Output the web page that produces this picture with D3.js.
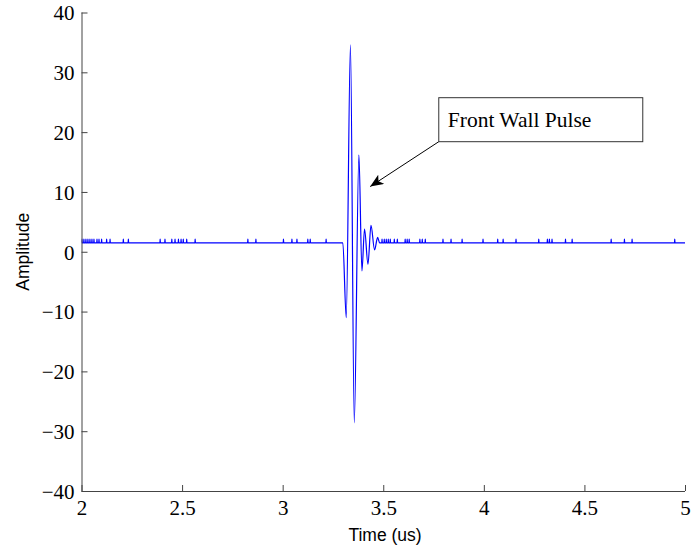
<!DOCTYPE html>
<html><head><meta charset="utf-8">
<script src="https://cdn.jsdelivr.net/npm/d3@7"></script>
<style>body{margin:0;background:#fff}</style>
</head><body>
<script>
// ---- data ----
const xTicks = [2, 2.5, 3, 3.5, 4, 4.5, 5];
const yTicks = [-40, -30, -20, -10, 0, 10, 20, 30, 40];
const baseline = 1.5;
const spikeHeight = 2.1;
const spikeTimesLeft = [2.002, 2.012, 2.022, 2.032, 2.042, 2.052, 2.062, 2.077, 2.087, 2.100, 2.125, 2.142, 2.208, 2.233, 2.391, 2.415, 2.449, 2.465, 2.482, 2.495, 2.506, 2.523, 2.565, 2.827, 2.867, 3.004, 3.046, 3.071, 3.125, 3.137, 3.216];
const pulseTime = [3.299, 3.316, 3.337, 3.356, 3.379, 3.394, 3.407, 3.424, 3.439, 3.457, 3.472, 3.482];
const pulseAmp  = [1.5, -11.0, 34.6, -28.6, 16.2, -3.2, 3.8, -2.1, 4.4, 0.3, 2.4, 1.5];
const spikeTimesRight = [3.494, 3.505, 3.515, 3.525, 3.535, 3.555, 3.570, 3.609, 3.619, 3.629, 3.682, 3.694, 3.709, 3.797, 3.837, 3.892, 3.996, 4.069, 4.096, 4.160, 4.273, 4.316, 4.326, 4.339, 4.406, 4.439, 4.633, 4.699, 4.737, 4.949];
const annotationText = "Front Wall Pulse";
const arrowTip = [3.435, 10.9];
const arrowTail = [3.776, 18.4];

// ---- layout ----
const W = 695, H = 549;
const x = d3.scaleLinear().domain([2, 5]).range([81.5, 685]);
const y = d3.scaleLinear().domain([-40, 40]).range([491, 12.5]);
const serif = "'Liberation Serif', 'Times New Roman', serif";
const sans = "'Liberation Sans', Arial, sans-serif";

const svg = d3.select("body").append("svg").attr("width", W).attr("height", H)
  .style("font-family", serif);

// build series
const pts = [];
pts.push([2, baseline]);
const dt = 0.0012;
function addSpikes(list) {
  list.forEach(t => {
    pts.push([t - dt, baseline]);
    pts.push([t, spikeHeight]);
    pts.push([t + dt, baseline]);
  });
}
addSpikes(spikeTimesLeft);
pulseTime.forEach((t, i) => pts.push([t, pulseAmp[i]]));
addSpikes(spikeTimesRight);
pts.push([5, baseline]);

svg.append("clipPath").attr("id", "c").append("rect")
  .attr("x", x(2)).attr("y", y(40)).attr("width", x(5) - x(2)).attr("height", y(-40) - y(40));

svg.append("path").datum(pts)
  .attr("clip-path", "url(#c)")
  .attr("fill", "none").attr("stroke", "#0000ff").attr("stroke-width", 1.2)
  .attr("d", d3.line().x(d => x(d[0])).y(d => y(d[1])).curve(d3.curveMonotoneX));

// axes
const axisColor = "#444";
const xAxis = d3.axisBottom(x).tickValues(xTicks).tickSize(-6).tickPadding(9).tickFormat(d3.format(""));
const gx = svg.append("g").attr("transform", `translate(0,${y(-40)})`).call(xAxis);
const yAxis = d3.axisLeft(y).tickValues(yTicks).tickSize(-6).tickPadding(7).tickFormat(d3.format(""));
const gy = svg.append("g").attr("transform", `translate(${x(2)},0)`).call(yAxis);
[gx, gy].forEach(g => {
  g.select(".domain").attr("stroke", axisColor);
  g.selectAll(".tick line").attr("stroke", axisColor);
  g.selectAll(".tick text").attr("fill", "#000").style("font-size", "21px")
    .style("font-family", serif);
});
gx.select(".domain").attr("d", `M${x(2)},0.5H${x(5)}`);
gy.select(".domain").attr("d", `M0.5,${y(-40)}V${y(40)}`);
gy.selectAll(".tick text").attr("dy", "0.35em");

// axis labels
svg.append("text").attr("x", 385).attr("y", 541)
  .attr("text-anchor", "middle").style("font-family", sans)
  .style("font-size", "17.5px").text("Time (us)");
svg.append("text").attr("transform", `translate(29,${y(0)}) rotate(-90)`)
  .attr("text-anchor", "middle").style("font-family", sans)
  .style("font-size", "17.5px").text("Amplitude");

// annotation
svg.append("defs").append("marker").attr("id", "ah").attr("viewBox", "0 0 12 10")
  .attr("refX", 12).attr("refY", 5).attr("markerWidth", 14).attr("markerHeight", 11)
  .attr("markerUnits", "userSpaceOnUse").attr("orient", "auto")
  .append("path").attr("d", "M0,0 L12,5 L0,10 L3,5 Z").attr("fill", "#000");
svg.append("line")
  .attr("x1", x(arrowTail[0])).attr("y1", y(arrowTail[1]))
  .attr("x2", x(arrowTip[0])).attr("y2", y(arrowTip[1]))
  .attr("stroke", "#000").attr("stroke-width", 1).attr("marker-end", "url(#ah)");
const bx = x(arrowTail[0]), by = y(arrowTail[1]);
svg.append("rect").attr("x", bx).attr("y", by - 44).attr("width", 204).attr("height", 44)
  .attr("fill", "#fff").attr("stroke", "#333").attr("stroke-width", 1);
svg.append("text").attr("x", bx + 9).attr("y", by - 15)
  .style("font-size", "21.5px").attr("fill", "#000").text(annotationText);
</script>
</body></html>
